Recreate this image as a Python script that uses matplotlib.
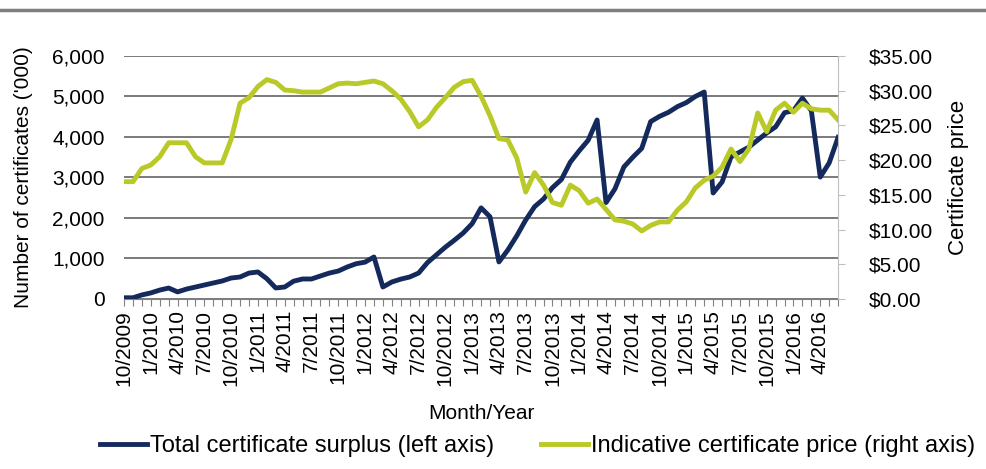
import numpy as np
import matplotlib
matplotlib.use("Agg")
import matplotlib.pyplot as plt
from matplotlib.lines import Line2D

plt.rcParams['font.family'] = ['Liberation Sans', 'DejaVu Sans']

# Monthly data 10/2009 .. 6/2016
start_month, start_year = 10, 2009
n_months = 81
months = []
for i in range(n_months):
    m = (start_month - 1 + i) % 12 + 1
    y = start_year + (start_month - 1 + i) // 12
    months.append(f"{m}/{y}")

# Total certificate surplus ('000)
surplus = [30, 30, 100, 150, 220, 270, 175, 245, 295, 345,
           395, 445, 518, 543, 640, 667, 500, 272, 296, 440,
           494, 494, 568, 640, 690, 790, 870, 910, 1037, 296,
           420, 490, 543, 640, 900, 1090, 1280, 1450, 1630, 1860,
           2250, 2030, 915, 1210, 1560, 1950, 2280, 2470, 2750, 2950,
           3380, 3660, 3920, 4420, 2380, 2720, 3260, 3500, 3720, 4380,
           4510, 4610, 4750, 4850, 5000, 5110, 2617, 2889, 3506, 3630,
           3750, 3925, 4100, 4250, 4600, 4650, 4960, 4650, 3010, 3360,
           3990]

# Indicative certificate price ($)
price = [16.9, 16.9, 18.8, 19.3, 20.5, 22.5, 22.5, 22.5, 20.5, 19.6,
         19.6, 19.6, 23.0, 28.2, 29.0, 30.6, 31.6, 31.2, 30.1, 30.0,
         29.8, 29.8, 29.8, 30.4, 31.0, 31.1, 31.0, 31.2, 31.4, 31.0,
         30.0, 28.8, 27.0, 24.8, 25.8, 27.6, 29.0, 30.5, 31.3, 31.5,
         29.2, 26.4, 23.1, 22.9, 20.3, 15.4, 18.2, 16.4, 13.9, 13.5,
         16.4, 15.6, 13.8, 14.4, 12.9, 11.4, 11.2, 10.8, 9.8, 10.6,
         11.1, 11.1, 12.8, 14.0, 16.0, 17.1, 17.7, 19.0, 21.6, 19.8,
         21.6, 26.8, 24.1, 27.2, 28.2, 26.9, 28.2, 27.4, 27.2, 27.2,
         25.8]

navy = '#152a5c'
lime = '#b9c927'
grid_c = '#707070'
fs = 15

fig = plt.figure(figsize=(9.86, 4.69), dpi=100)
ax = fig.add_axes([0.1258, 0.3625, 0.7242, 0.5181])
ax2 = ax.twinx()

x = np.arange(n_months)
l1, = ax.plot(x, surplus, color=navy, lw=3.5, solid_joinstyle='round')
l2, = ax2.plot(x, price, color=lime, lw=3.5, solid_joinstyle='round')

ax.set_xlim(0, n_months - 1)
ax.set_ylim(0, 6000)
ax2.set_ylim(0, 35)

ax.set_yticks(np.arange(0, 6001, 1000))
ax.set_yticklabels([f"{v:,}" for v in range(0, 6001, 1000)], fontsize=fs)
ax2.set_yticks(np.arange(0, 36, 5))
ax2.set_yticklabels([f"${v:.2f}" for v in range(0, 36, 5)], fontsize=fs)

ax.set_xticks(x)
ax.set_xticklabels([lab if i % 3 == 0 else '' for i, lab in enumerate(months)],
                   rotation=90, fontsize=fs)
ax.tick_params(axis='x', length=5, color='#808080', pad=3)
ax.tick_params(axis='y', length=0, pad=14)
ax2.tick_params(axis='y', length=5, color='#bfbfbf', pad=17)

ax.yaxis.grid(True, color=grid_c, lw=1.3)
ax.set_axisbelow(True)
for s in ['top', 'left']:
    ax.spines[s].set_visible(False)
    ax2.spines[s].set_visible(False)
ax.spines['bottom'].set_color('#808080')
ax2.spines['bottom'].set_visible(False)
ax.spines['right'].set_visible(False)
ax2.spines['right'].set_color('#bfbfbf')

ax.set_ylabel("Number of certificates ('000)", fontsize=fs, labelpad=14)
ax2.set_ylabel("Certificate price", fontsize=fs + 1, labelpad=11)
ax.set_xlabel("Month/Year", fontsize=fs, labelpad=13)

fig.legend([l1, l2], ["Total certificate surplus (left axis)",
                      "Indicative certificate price (right axis)"],
           loc='center', bbox_to_anchor=(0.545, 0.048), ncol=2, frameon=False,
           fontsize=17, handlelength=2.0, handletextpad=0.1, columnspacing=2.0)

fig.add_artist(Line2D([0, 1], [0.979, 0.979], transform=fig.transFigure,
                      color='#7f7f7f', lw=2.5))

fig.savefig("out.png", dpi=100)
